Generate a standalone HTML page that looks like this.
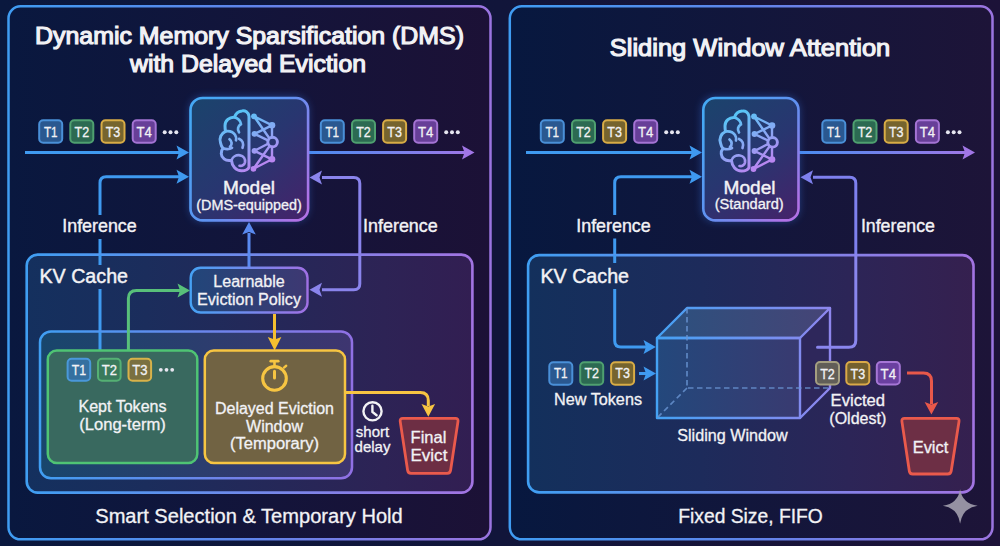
<!DOCTYPE html>
<html><head><meta charset="utf-8">
<style>
html,body{margin:0;padding:0;background:linear-gradient(90deg,#0a183e,#11153a 50%,#1c1238);width:1000px;height:546px;overflow:hidden}
svg{display:block}
text{font-family:"Liberation Sans",sans-serif;fill:#f2f2f5;stroke:#f2f2f5;stroke-width:0.3px}
text.ttl{stroke-width:1.15px}
</style></head>
<body>
<svg width="1000" height="546" viewBox="0 0 1000 546">
<defs>
  <linearGradient id="bgL" gradientUnits="userSpaceOnUse" x1="9" y1="0" x2="490" y2="0"><stop offset="0" stop-color="#09183f"/><stop offset="1" stop-color="#1c1136"/></linearGradient>
  <linearGradient id="bgR" gradientUnits="userSpaceOnUse" x1="510" y1="0" x2="992" y2="0"><stop offset="0" stop-color="#07183f"/><stop offset="1" stop-color="#1d1438"/></linearGradient>
  <linearGradient id="pbL" gradientUnits="userSpaceOnUse" x1="8" y1="0" x2="491" y2="0">
    <stop offset="0" stop-color="#3f9cf2"/><stop offset="0.5" stop-color="#5f84ea"/><stop offset="1" stop-color="#9a74e0"/>
  </linearGradient>
  <linearGradient id="pbR" gradientUnits="userSpaceOnUse" x1="509" y1="0" x2="992" y2="0">
    <stop offset="0" stop-color="#3f9cf2"/><stop offset="0.5" stop-color="#5f84ea"/><stop offset="1" stop-color="#9a74e0"/>
  </linearGradient>
  <linearGradient id="kvL" gradientUnits="userSpaceOnUse" x1="26" y1="0" x2="473" y2="0"><stop offset="0" stop-color="#14305e"/><stop offset="0.27" stop-color="#1b2d5c"/><stop offset="0.8" stop-color="#2d2355"/><stop offset="1" stop-color="#321e52"/></linearGradient>
  <linearGradient id="kvR" gradientUnits="userSpaceOnUse" x1="527" y1="0" x2="974" y2="0"><stop offset="0" stop-color="#13305c"/><stop offset="0.39" stop-color="#1d2b5b"/><stop offset="0.72" stop-color="#2c2557"/><stop offset="1" stop-color="#35204f"/></linearGradient>
  <linearGradient id="kvbL" gradientUnits="userSpaceOnUse" x1="26" y1="0" x2="473" y2="0">
    <stop offset="0" stop-color="#3f9ef2"/><stop offset="1" stop-color="#a274e2"/>
  </linearGradient>
  <linearGradient id="kvbR" gradientUnits="userSpaceOnUse" x1="527" y1="0" x2="974" y2="0">
    <stop offset="0" stop-color="#3f9ef2"/><stop offset="1" stop-color="#a274e2"/>
  </linearGradient>
  <linearGradient id="inL" gradientUnits="userSpaceOnUse" x1="39" y1="0" x2="353" y2="0"><stop offset="0" stop-color="#18466c"/><stop offset="1" stop-color="#3e3570"/></linearGradient>
  <linearGradient id="inbL" gradientUnits="userSpaceOnUse" x1="39" y1="0" x2="353" y2="0">
    <stop offset="0" stop-color="#409ef2"/><stop offset="1" stop-color="#9070e4"/>
  </linearGradient>
  <linearGradient id="mdL" gradientUnits="userSpaceOnUse" x1="190" y1="97" x2="308" y2="221"><stop offset="0" stop-color="#1a446c"/><stop offset="0.5" stop-color="#283670"/><stop offset="1" stop-color="#46226a"/></linearGradient>
  <linearGradient id="mdbL" gradientUnits="userSpaceOnUse" x1="190" y1="125" x2="308" y2="200"><stop offset="0" stop-color="#45a8f4"/><stop offset="0.5" stop-color="#6090f0"/><stop offset="1" stop-color="#b072e6"/></linearGradient>
  <linearGradient id="mdR" gradientUnits="userSpaceOnUse" x1="702" y1="97" x2="799" y2="221"><stop offset="0" stop-color="#1a446c"/><stop offset="0.5" stop-color="#283670"/><stop offset="1" stop-color="#46226a"/></linearGradient>
  <linearGradient id="mdbR" gradientUnits="userSpaceOnUse" x1="702" y1="125" x2="799" y2="200"><stop offset="0" stop-color="#45a8f4"/><stop offset="0.5" stop-color="#6090f0"/><stop offset="1" stop-color="#b072e6"/></linearGradient>
  <linearGradient id="lpL" gradientUnits="userSpaceOnUse" x1="190" y1="0" x2="308" y2="0"><stop offset="0" stop-color="#21467a"/><stop offset="1" stop-color="#3e3872"/></linearGradient>
  <linearGradient id="lpbL" gradientUnits="userSpaceOnUse" x1="190" y1="0" x2="308" y2="0">
    <stop offset="0" stop-color="#45a2f4"/><stop offset="1" stop-color="#a070e4"/>
  </linearGradient>
  <linearGradient id="arrL" gradientUnits="userSpaceOnUse" x1="308" y1="0" x2="475" y2="0">
    <stop offset="0" stop-color="#4a8cf0"/><stop offset="1" stop-color="#a176e6"/>
  </linearGradient>
  <linearGradient id="arrR" gradientUnits="userSpaceOnUse" x1="799" y1="0" x2="975" y2="0">
    <stop offset="0" stop-color="#4a8cf0"/><stop offset="1" stop-color="#a176e6"/>
  </linearGradient>
  <linearGradient id="cubeF" gradientUnits="userSpaceOnUse" x1="656" y1="0" x2="800" y2="0"><stop offset="0" stop-color="#23487c"/><stop offset="1" stop-color="#393a70"/></linearGradient>
  <linearGradient id="cubeS" gradientUnits="userSpaceOnUse" x1="656" y1="0" x2="830" y2="0"><stop offset="0" stop-color="#44a2f4"/><stop offset="1" stop-color="#8e86ee"/></linearGradient>
  <linearGradient id="cubeT" gradientUnits="userSpaceOnUse" x1="670" y1="0" x2="830" y2="0"><stop offset="0" stop-color="#2d507e"/><stop offset="1" stop-color="#464476"/></linearGradient>
  <filter id="glow" x="-30%" y="-30%" width="160%" height="160%">
    <feGaussianBlur stdDeviation="4"/>
  </filter>
  <marker id="ahB" viewBox="0 0 14 14" refX="12" refY="7" markerWidth="14" markerHeight="14" markerUnits="userSpaceOnUse" orient="auto">
    <path d="M0,0 L14,7 L0,14 L3,7 Z" fill="#3f9af0"/>
  </marker>
  <linearGradient id="brainG" gradientUnits="userSpaceOnUse" x1="10" y1="2" x2="40" y2="64">
    <stop offset="0" stop-color="#52c8f6"/><stop offset="0.5" stop-color="#88a8f4"/><stop offset="1" stop-color="#c47ef0"/>
  </linearGradient>
  <g id="brain" fill="none" stroke="url(#brainG)" stroke-linecap="round" stroke-linejoin="round">
    <path d="M30,6 C29.5,1.5 26,0 23,0.6 C19.5,1 16.5,3.5 15.5,7 C10.5,6.5 6,10.5 6,15.5 C6,17.5 6.2,19.5 6.5,21 C2,23 0,28 1.5,32.5 C2,35 3,37 4,38 C1.5,41 1.5,46 5,48.5 C7.5,50.5 10,50.5 12.5,50 C13,56 17,60.5 22.5,60.5 C26,60.5 29,59.5 30,57 Z" stroke-width="3"/>
    <path d="M15.5,7 C19,8 21.5,10.5 22,14 M22,14 C19,15.5 18,19 20,22 M6.5,21 C10,20.5 14,21.5 16,24.5 C17,26 17.5,28 17,30 M10.5,29 C13,31 13.5,34 11,36.5 M20,28.5 C23.5,30 25,33.5 23.5,37.5 M4,38 C7,39 10.5,39 13,37.5 M12.5,50 C13.5,46.5 17,44.5 21,45 C24.5,45.5 26.5,48.5 26,52 C25.5,54.5 23,56 20.5,55.5" stroke-width="2.7"/>
    <path d="M35,6 L53,15 M35,6 L50,27.5 M53,15 L35.5,23.5 M35.5,23.5 L49,30 M53,15 L53,27 M49,33.5 L35.5,40.5 M35.5,40.5 L53,49 M50.5,36 L34.5,58.5 M53,36.5 L53,49 M53,49 L34.5,58.5" stroke-width="2.4"/>
    <g stroke="none" fill="url(#brainG)">
      <circle cx="35" cy="6" r="2.9"/><circle cx="53" cy="15" r="3.3"/><circle cx="35.5" cy="23.5" r="2.9"/>
      <circle cx="35.5" cy="40.5" r="2.9"/><circle cx="53" cy="49" r="3.3"/><circle cx="34.5" cy="58.5" r="2.9"/>
    </g>
    <circle cx="53.6" cy="31.8" r="4.8" stroke-width="2.9"/>
  </g>
</defs>

<!-- ============ LEFT PANEL ============ -->
<rect x="8.5" y="6.3" width="482" height="533" rx="12" fill="url(#bgL)" stroke="url(#pbL)" stroke-width="2.5"/>
<text x="249.5" y="44" class="ttl" font-size="23.5" text-anchor="middle" textLength="429" lengthAdjust="spacingAndGlyphs">Dynamic Memory Sparsification (DMS)</text>
<text x="248" y="71.5" class="ttl" font-size="23.5" text-anchor="middle" textLength="236" lengthAdjust="spacingAndGlyphs">with Delayed Eviction</text>

<!-- tokens top left -->
<g text-anchor="middle">
  <rect x="39.2" y="120.2" width="23.0" height="22.6" rx="4" fill="#2a5890" stroke="#4a90d8" stroke-width="2"/><text x="50.7" y="137.0" font-size="14" textLength="13.6" lengthAdjust="spacingAndGlyphs">T1</text>
  <rect x="70.3" y="120.2" width="23.0" height="22.6" rx="4" fill="#2c6a52" stroke="#4fa070" stroke-width="2"/><text x="81.8" y="137.0" font-size="14" textLength="14.6" lengthAdjust="spacingAndGlyphs">T2</text>
  <rect x="101.5" y="120.2" width="23.0" height="22.6" rx="4" fill="#76642e" stroke="#d8ac46" stroke-width="2"/><text x="113.0" y="137.0" font-size="14" textLength="14.6" lengthAdjust="spacingAndGlyphs">T3</text>
  <rect x="132.7" y="120.2" width="23.0" height="22.6" rx="4" fill="#673f98" stroke="#a474d4" stroke-width="2"/><text x="144.2" y="137.0" font-size="14" textLength="15.4" lengthAdjust="spacingAndGlyphs">T4</text>
</g>
<g fill="#e6e6f0"><circle cx="164.7" cy="132.3" r="2"/><circle cx="170.5" cy="132.3" r="2"/><circle cx="176.3" cy="132.3" r="2"/></g>
<g text-anchor="middle">
  <rect x="320.8" y="120.2" width="23.0" height="22.6" rx="4" fill="#2a5890" stroke="#4a90d8" stroke-width="2"/><text x="332.3" y="137.0" font-size="14" textLength="13.6" lengthAdjust="spacingAndGlyphs">T1</text>
  <rect x="352.0" y="120.2" width="23.0" height="22.6" rx="4" fill="#2c6a52" stroke="#4fa070" stroke-width="2"/><text x="363.5" y="137.0" font-size="14" textLength="14.6" lengthAdjust="spacingAndGlyphs">T2</text>
  <rect x="383.1" y="120.2" width="23.0" height="22.6" rx="4" fill="#76642e" stroke="#d8ac46" stroke-width="2"/><text x="394.6" y="137.0" font-size="14" textLength="14.6" lengthAdjust="spacingAndGlyphs">T3</text>
  <rect x="414.2" y="120.2" width="23.0" height="22.6" rx="4" fill="#673f98" stroke="#a474d4" stroke-width="2"/><text x="425.7" y="137.0" font-size="14" textLength="15.4" lengthAdjust="spacingAndGlyphs">T4</text>
</g>
<g fill="#e6e6f0"><circle cx="446.2" cy="132.3" r="2"/><circle cx="452.0" cy="132.3" r="2"/><circle cx="457.8" cy="132.3" r="2"/></g>

<!-- main arrows -->
<line x1="25" y1="152.6" x2="180" y2="152.6" stroke="#3f9af0" stroke-width="3"/>
<path d="M176.5,145.6 L189.0,152.6 L176.5,159.6 L179.0,152.6 Z" fill="#3f9af0"/>
<line x1="308" y1="152.6" x2="466" y2="152.6" stroke="url(#arrL)" stroke-width="3"/>
<path d="M462.0,145.6 L474.5,152.6 L462.0,159.6 L464.5,152.6 Z" fill="#a176e6"/>

<!-- model box -->
<rect x="190" y="97" width="118" height="124" rx="13" fill="#3a7ef0" opacity="0.45" filter="url(#glow)"/>
<rect x="190.5" y="98" width="117.6" height="122.4" rx="12" fill="url(#mdL)" stroke="url(#mdbL)" stroke-width="2.6"/>
<use href="#brain" x="219" y="110.3" />
<text x="249" y="193.5" font-size="18" text-anchor="middle" textLength="52" lengthAdjust="spacingAndGlyphs" style="stroke-width:0.4px">Model</text>
<text x="249" y="209.6" font-size="14" text-anchor="middle" textLength="105.5" lengthAdjust="spacingAndGlyphs">(DMS-equipped)</text>

<!-- inference left (blue) -->
<path d="M100,215 L100,183 Q100,176.8 106.2,176.8 L180,176.8" fill="none" stroke="#3f9af0" stroke-width="3"/>
<path d="M176.5,169.8 L189.0,176.8 L176.5,183.8 L179.0,176.8 Z" fill="#3f9af0"/>
<path d="M100,239 L100,265 M100,289 L100,350" fill="none" stroke="#3f9af0" stroke-width="3"/>
<text x="99.5" y="232.4" font-size="18.4" text-anchor="middle" textLength="74.5" style="stroke-width:0.4px" lengthAdjust="spacingAndGlyphs">Inference</text>

<!-- inference right (purple) -->
<path d="M322,177.5 L353.8,177.5 Q359.8,177.5 359.8,183.5 L359.8,283.8 Q359.8,289.8 353.8,289.8 L322,289.8" fill="none" stroke="#8a84ec" stroke-width="3"/>
<path d="M322.0,170.4 L309.5,177.4 L322.0,184.4 L319.5,177.4 Z" fill="#8a84ec"/>
<text x="400.4" y="232.4" font-size="18.4" text-anchor="middle" textLength="74.8" style="stroke-width:0.4px" lengthAdjust="spacingAndGlyphs">Inference</text>

<!-- KV cache box -->
<rect x="26.7" y="254.6" width="445.7" height="238" rx="11" fill="url(#kvL)" stroke="url(#kvbL)" stroke-width="2.6"/>
<text x="39.5" y="282.6" font-size="20" textLength="88.5" style="stroke-width:0.45px" lengthAdjust="spacingAndGlyphs">KV Cache</text>
<!-- redraw lines over KV fill -->
<path d="M100,255 L100,265 M100,289 L100,350" fill="none" stroke="#3f9af0" stroke-width="3"/>
<path d="M359.8,255 L359.8,283.8 Q359.8,289.8 353.8,289.8 L322,289.8" fill="none" stroke="#8a84ec" stroke-width="3"/>
<path d="M322.0,282.8 L309.5,289.8 L322.0,296.8 L319.5,289.8 Z" fill="#8a84ec"/>

<!-- learnable policy -->
<line x1="249" y1="267" x2="249" y2="233" stroke="#5a8af0" stroke-width="3"/>
<path d="M242.2,234.5 L249.0,222.0 L255.8,234.5 L249.0,232.0 Z" fill="#5a8af0"/>
<rect x="190.7" y="267.7" width="116.8" height="44.8" rx="10" fill="url(#lpL)" stroke="url(#lpbL)" stroke-width="2.4"/>
<text x="249" y="286.5" font-size="16" text-anchor="middle" textLength="71.5" lengthAdjust="spacingAndGlyphs">Learnable</text>
<text x="249" y="304.6" font-size="16" text-anchor="middle" textLength="104" lengthAdjust="spacingAndGlyphs">Eviction Policy</text>

<!-- inner box -->
<rect x="40" y="331.5" width="312" height="146.8" rx="11" fill="url(#inL)" stroke="url(#inbL)" stroke-width="2.5"/>
<path d="M100,332 L100,350" stroke="#3f9af0" stroke-width="3"/>

<!-- green arrow -->
<path d="M128.4,350 L128.4,298.5 Q128.4,290.4 136.5,290.4 L180,290.4" fill="none" stroke="#58c07a" stroke-width="3"/>
<path d="M177.5,283.4 L190.0,290.4 L177.5,297.4 L180.0,290.4 Z" fill="#58c07a"/>

<!-- gold arrow down -->
<line x1="274.5" y1="314" x2="274.5" y2="340" stroke="#f5c030" stroke-width="3"/>
<path d="M267.8,337.0 L274.6,350.5 L281.4,337.0 L274.6,339.5 Z" fill="#f5c030"/>

<!-- green box -->
<rect x="47.8" y="350.6" width="149.5" height="112.4" rx="9" fill="#39695f" stroke="#4fc474" stroke-width="2.5"/>
<g text-anchor="middle">
  <rect x="67.6" y="358.8" width="22.6" height="22.0" rx="4" fill="#3570a0" stroke="#4a98da" stroke-width="2"/><text x="78.9" y="374.6" font-size="14.2" textLength="14.4" lengthAdjust="spacingAndGlyphs">T1</text>
  <rect x="98.0" y="358.8" width="22.6" height="22.0" rx="4" fill="#3a7a5c" stroke="#55b074" stroke-width="2"/><text x="109.3" y="374.6" font-size="14.2" textLength="15.2" lengthAdjust="spacingAndGlyphs">T2</text>
  <rect x="128.5" y="358.8" width="22.6" height="22.0" rx="4" fill="#7a7040" stroke="#d8b24a" stroke-width="2"/><text x="139.8" y="374.6" font-size="14.2" textLength="15.2" lengthAdjust="spacingAndGlyphs">T3</text>
</g>
<g fill="#e6e6f0"><circle cx="160.8" cy="369.8" r="1.9"/><circle cx="166.5" cy="369.8" r="1.9"/><circle cx="172.2" cy="369.8" r="1.9"/></g>
<text x="122.5" y="411.5" font-size="16" text-anchor="middle" textLength="88" lengthAdjust="spacingAndGlyphs">Kept Tokens</text>
<text x="122.5" y="430" font-size="16" text-anchor="middle" textLength="86.5" lengthAdjust="spacingAndGlyphs">(Long-term)</text>

<!-- gold box -->
<rect x="204.8" y="350.6" width="140.2" height="112.4" rx="9" fill="#716343" stroke="#f7c542" stroke-width="2.5"/>
<g fill="none" stroke="#f7c542" stroke-linecap="round">
  <circle cx="274.5" cy="378.4" r="11.8" stroke-width="3.1"/>
  <line x1="270.8" y1="361.2" x2="278.2" y2="361.2" stroke-width="2.8"/>
  <line x1="274.5" y1="362" x2="274.5" y2="366" stroke-width="2.6"/>
  <line x1="284" y1="367.6" x2="286.2" y2="365.8" stroke-width="2.4"/>
  <line x1="274.5" y1="371.2" x2="274.5" y2="378" stroke-width="3"/>
</g>
<text x="274.5" y="413.5" font-size="16" text-anchor="middle" textLength="119" lengthAdjust="spacingAndGlyphs">Delayed Eviction</text>
<text x="274.5" y="431.5" font-size="16" text-anchor="middle">Window</text>
<text x="274.5" y="449" font-size="16" text-anchor="middle" textLength="89" lengthAdjust="spacingAndGlyphs">(Temporary)</text>

<!-- gold line to final evict -->
<path d="M345.5,392.4 L420.3,392.4 Q428.3,392.4 428.3,400.4 L428.3,406" fill="none" stroke="#f7c442" stroke-width="3"/>
<path d="M421.5,404.0 L428.3,416.8 L435.1,404.0 L428.3,406.5 Z" fill="#f7c442"/>

<!-- clock -->
<g fill="none" stroke="#f2f2f5" stroke-width="2.4" stroke-linecap="round">
  <circle cx="372.5" cy="411.3" r="9.1"/>
  <path d="M372.4,405.8 L372.4,412 L376.6,415.2"/>
</g>
<text x="372.5" y="436.5" font-size="15" text-anchor="middle">short</text>
<text x="372.5" y="452.2" font-size="15" text-anchor="middle">delay</text>

<!-- final evict -->
<path d="M402.8,418.4 L455.4,418.4 Q458.4,418.4 458.0,421.4 L450.6,470.3 Q450.2,473.3 447.2,473.3 L411.0,473.3 Q408.0,473.3 407.6,470.3 L400.2,421.4 Q399.8,418.4 402.8,418.4 Z" fill="#6d2e44" stroke="#ea5a4c" stroke-width="2.8"/>
<text x="428.5" y="442.7" font-size="16.5" text-anchor="middle" textLength="35.8" lengthAdjust="spacingAndGlyphs">Final</text>
<text x="428.9" y="461.3" font-size="16.5" text-anchor="middle" textLength="37" lengthAdjust="spacingAndGlyphs">Evict</text>

<text x="249" y="523" font-size="20" text-anchor="middle" textLength="307.5" lengthAdjust="spacingAndGlyphs">Smart Selection &amp; Temporary Hold</text>

<!-- ============ RIGHT PANEL ============ -->
<rect x="509.8" y="6.3" width="482.7" height="533" rx="12" fill="url(#bgR)" stroke="url(#pbR)" stroke-width="2.5"/>
<text x="750" y="56.3" class="ttl" font-size="23.5" text-anchor="middle" textLength="280.5" lengthAdjust="spacingAndGlyphs">Sliding Window Attention</text>

<g text-anchor="middle">
  <rect x="540.8" y="120.2" width="23.0" height="22.6" rx="4" fill="#2a5890" stroke="#4a90d8" stroke-width="2"/><text x="552.3" y="137.0" font-size="14" textLength="13.6" lengthAdjust="spacingAndGlyphs">T1</text>
  <rect x="572.0" y="120.2" width="23.0" height="22.6" rx="4" fill="#2c6a52" stroke="#4fa070" stroke-width="2"/><text x="583.5" y="137.0" font-size="14" textLength="14.6" lengthAdjust="spacingAndGlyphs">T2</text>
  <rect x="603.1" y="120.2" width="23.0" height="22.6" rx="4" fill="#76642e" stroke="#d8ac46" stroke-width="2"/><text x="614.6" y="137.0" font-size="14" textLength="14.6" lengthAdjust="spacingAndGlyphs">T3</text>
  <rect x="634.2" y="120.2" width="23.0" height="22.6" rx="4" fill="#673f98" stroke="#a474d4" stroke-width="2"/><text x="645.7" y="137.0" font-size="14" textLength="15.4" lengthAdjust="spacingAndGlyphs">T4</text>
</g>
<g fill="#e6e6f0"><circle cx="666.2" cy="132.3" r="2"/><circle cx="672.0" cy="132.3" r="2"/><circle cx="677.8" cy="132.3" r="2"/></g>
<g text-anchor="middle">
  <rect x="822.3" y="120.2" width="23.0" height="22.6" rx="4" fill="#2a5890" stroke="#4a90d8" stroke-width="2"/><text x="833.8" y="137.0" font-size="14" textLength="13.6" lengthAdjust="spacingAndGlyphs">T1</text>
  <rect x="853.5" y="120.2" width="23.0" height="22.6" rx="4" fill="#2c6a52" stroke="#4fa070" stroke-width="2"/><text x="865.0" y="137.0" font-size="14" textLength="14.6" lengthAdjust="spacingAndGlyphs">T2</text>
  <rect x="884.7" y="120.2" width="23.0" height="22.6" rx="4" fill="#76642e" stroke="#d8ac46" stroke-width="2"/><text x="896.2" y="137.0" font-size="14" textLength="14.6" lengthAdjust="spacingAndGlyphs">T3</text>
  <rect x="915.9" y="120.2" width="23.0" height="22.6" rx="4" fill="#673f98" stroke="#a474d4" stroke-width="2"/><text x="927.4" y="137.0" font-size="14" textLength="15.4" lengthAdjust="spacingAndGlyphs">T4</text>
</g>
<g fill="#e6e6f0"><circle cx="947.9" cy="132.3" r="2"/><circle cx="953.7" cy="132.3" r="2"/><circle cx="959.5" cy="132.3" r="2"/></g>

<line x1="526" y1="152.6" x2="693" y2="152.6" stroke="#3f9af0" stroke-width="3"/>
<path d="M689.5,145.6 L702.0,152.6 L689.5,159.6 L692.0,152.6 Z" fill="#3f9af0"/>
<line x1="799" y1="152.6" x2="966" y2="152.6" stroke="url(#arrR)" stroke-width="3"/>
<path d="M962.5,145.4 L975.0,152.4 L962.5,159.4 L965.0,152.4 Z" fill="#a176e6"/>

<rect x="702" y="97" width="97" height="124" rx="13" fill="#3a7ef0" opacity="0.45" filter="url(#glow)"/>
<rect x="703.3" y="98" width="95.2" height="122.4" rx="12" fill="url(#mdR)" stroke="url(#mdbR)" stroke-width="2.6"/>
<use href="#brain" x="719" y="110.5" />
<text x="749.5" y="193.5" font-size="18" text-anchor="middle" textLength="52" lengthAdjust="spacingAndGlyphs" style="stroke-width:0.4px">Model</text>
<text x="749.2" y="209.3" font-size="14" text-anchor="middle" textLength="69" lengthAdjust="spacingAndGlyphs">(Standard)</text>

<path d="M614.7,215 L614.7,183 Q614.7,176.8 620.9,176.8 L692,176.8" fill="none" stroke="#3f9af0" stroke-width="3"/>
<path d="M689.5,169.8 L702.0,176.8 L689.5,183.8 L692.0,176.8 Z" fill="#3f9af0"/>
<path d="M614.7,238.5 L614.7,263" fill="none" stroke="#3f9af0" stroke-width="3"/>
<text x="613.5" y="232.4" font-size="18.4" text-anchor="middle" textLength="74.5" style="stroke-width:0.4px" lengthAdjust="spacingAndGlyphs">Inference</text>

<path d="M813,177.2 L849.8,177.2 Q855.8,177.2 855.8,183.2 L855.8,256" fill="none" stroke="#7e80ee" stroke-width="3"/>
<path d="M813.0,170.2 L800.5,177.2 L813.0,184.2 L810.5,177.2 Z" fill="#7e80ee"/>
<text x="897.9" y="232.4" font-size="18.4" text-anchor="middle" textLength="74" style="stroke-width:0.4px" lengthAdjust="spacingAndGlyphs">Inference</text>

<rect x="528.1" y="255.1" width="445.4" height="237.3" rx="11" fill="url(#kvR)" stroke="url(#kvbR)" stroke-width="2.6"/>
<text x="540.5" y="282.6" font-size="20" textLength="88.5" style="stroke-width:0.45px" lengthAdjust="spacingAndGlyphs">KV Cache</text>

<path d="M614.7,255 L614.7,263 M614.7,289 L614.7,340.8 Q614.7,347 620.9,347 L646,347" fill="none" stroke="#3f9af0" stroke-width="3"/>
<path d="M643.5,340 L655.8,347 L643.5,354 L646.0,347 Z" fill="#3f9af0"/>

<!-- cube -->
<path d="M657,338 L687,308 L830,308 L800,338 Z" fill="url(#cubeT)"/>
<path d="M800,338 L830,308 L830,388 L800,418 Z" fill="#30285c" opacity="0.7"/>
<rect x="657" y="338" width="143" height="80" fill="url(#cubeF)"/>
<g fill="none" stroke="url(#cubeS)" stroke-width="2.4" stroke-linejoin="round">
  <path d="M657,338 L687,308 L830,308 L800,338 Z"/>
  <rect x="657" y="338" width="143" height="80"/>
  <path d="M830,308 L830,388 L800,418"/>
</g>
<g fill="none" stroke="#6a96d4" stroke-width="1.7" stroke-dasharray="5.5,3.5" opacity="0.8">
  <path d="M687,308 L687,388 L830,388 M687,388 L657,418"/>
</g>

<path d="M855.8,255 L855.8,340.2 Q855.8,347.2 848.8,347.2 L817.5,347.2" fill="none" stroke="#8a86ee" stroke-width="3" stroke-linecap="round"/>

<!-- new tokens -->
<g text-anchor="middle">
  <rect x="549.3" y="362.2" width="23.0" height="22.5" rx="4" fill="#2a5890" stroke="#4a90d8" stroke-width="2"/><text x="560.8" y="378.4" font-size="14" textLength="13.6" lengthAdjust="spacingAndGlyphs">T1</text>
  <rect x="580.2" y="362.2" width="23.0" height="22.5" rx="4" fill="#2c6a52" stroke="#4fa070" stroke-width="2"/><text x="591.7" y="378.4" font-size="14" textLength="14.6" lengthAdjust="spacingAndGlyphs">T2</text>
  <rect x="611.1" y="362.2" width="23.0" height="22.5" rx="4" fill="#76642e" stroke="#d8ac46" stroke-width="2"/><text x="622.6" y="378.4" font-size="14" textLength="14.6" lengthAdjust="spacingAndGlyphs">T3</text>
</g>
<line x1="639" y1="373.5" x2="648" y2="373.5" stroke="#3f9af0" stroke-width="3"/>
<path d="M643.5,366.4 L656.0,373.4 L643.5,380.4 L646.0,373.4 Z" fill="#3f9af0"/>
<text x="598" y="404.7" font-size="16" text-anchor="middle" textLength="88" lengthAdjust="spacingAndGlyphs">New Tokens</text>
<text x="732.5" y="441" font-size="16" text-anchor="middle" textLength="110.5" lengthAdjust="spacingAndGlyphs">Sliding Window</text>

<!-- evicted tokens -->
<g text-anchor="middle">
  <rect x="816.0" y="362.0" width="23.0" height="22.5" rx="4" fill="#615e58" stroke="#a49e80" stroke-width="2"/><text x="827.5" y="378.5" font-size="14" textLength="14.6" lengthAdjust="spacingAndGlyphs">T2</text>
  <rect x="846.3" y="362.0" width="23.0" height="22.5" rx="4" fill="#74602e" stroke="#daa948" stroke-width="2"/><text x="857.8" y="378.5" font-size="14" textLength="14.6" lengthAdjust="spacingAndGlyphs">T3</text>
  <rect x="876.8" y="362.0" width="23.0" height="22.5" rx="4" fill="#6a40a0" stroke="#a676d6" stroke-width="2"/><text x="888.3" y="378.5" font-size="14" textLength="15.4" lengthAdjust="spacingAndGlyphs">T4</text>
</g>
<text x="857.8" y="405.8" font-size="16" text-anchor="middle" textLength="54.5" lengthAdjust="spacingAndGlyphs">Evicted</text>
<text x="857.8" y="424.2" font-size="16" text-anchor="middle" textLength="57">(Oldest)</text>

<path d="M907,373 L923.5,373 Q931.5,373 931.5,381 L931.5,404" fill="none" stroke="#e8584a" stroke-width="3"/>
<path d="M924.6,402.0 L931.4,414.5 L938.2,402.0 L931.4,404.5 Z" fill="#e8584a"/>
<path d="M904.5,418.4 L956.5,418.4 Q959.5,418.4 959.0,421.4 L951.2,471.0 Q950.7,474.0 947.7,474.0 L912.7,474.0 Q909.7,474.0 909.3,471.0 L901.9,421.4 Q901.5,418.4 904.5,418.4 Z" fill="#6d2f45" stroke="#ea5a4c" stroke-width="2.8"/>
<text x="930.5" y="452.6" font-size="16" text-anchor="middle" textLength="35.5" lengthAdjust="spacingAndGlyphs">Evict</text>

<text x="750.5" y="523" font-size="19.8" text-anchor="middle" textLength="144.5" lengthAdjust="spacingAndGlyphs">Fixed Size, FIFO</text>

<!-- star -->
<path d="M960.1,489.3 Q962.3,503.6 977.7,505.8 Q962.3,508 960.1,523.7 Q957.9,508 942.9,505.8 Q957.9,503.6 960.1,489.3 Z" fill="#a09cab" opacity="0.92"/>
</svg>
</body></html>
